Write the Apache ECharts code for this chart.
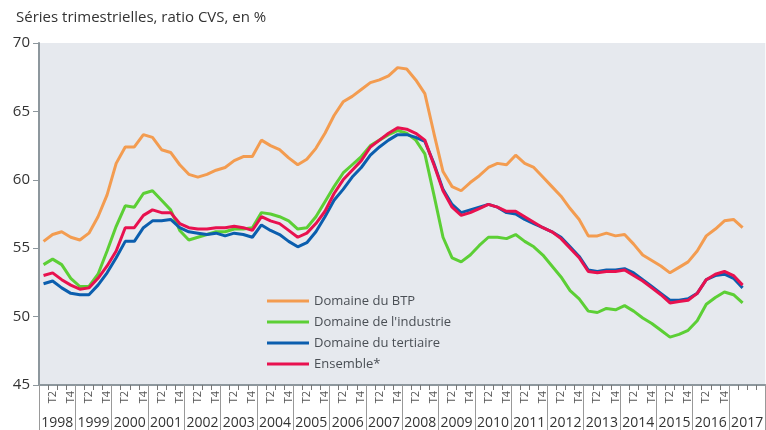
<!DOCTYPE html>
<html>
<head>
<meta charset="utf-8">
<script src="https://cdn.jsdelivr.net/npm/echarts@6/dist/echarts.min.js"></script>
<style>
  html, body { margin: 0; padding: 0; background: #fff; }
  #chart { width: 766px; height: 430px; }
</style>
</head>
<body>
<div id="chart"></div>
<script>
const years = ['1998', '1999', '2000', '2001', '2002', '2003', '2004', '2005', '2006', '2007',
  '2008', '2009', '2010', '2011', '2012', '2013', '2014', '2015', '2016', '2017']
const quarterTicks = ['', 'T2', '', 'T4']
const unlabelledYear = '2017'

const btp = [55.5, 56.0, 56.2, 55.8, 55.6, 56.1, 57.3, 58.9, 61.2, 62.4, 62.4, 63.3, 63.1, 62.2, 62.0, 61.1,
  60.4, 60.2, 60.4, 60.7, 60.9, 61.4, 61.7, 61.7, 62.9, 62.5, 62.2, 61.6, 61.1, 61.5, 62.3, 63.4,
  64.7, 65.7, 66.1, 66.6, 67.1, 67.3, 67.6, 68.2, 68.1, 67.3, 66.3, 63.4, 60.6, 59.5, 59.2, 59.8,
  60.3, 60.9, 61.2, 61.1, 61.8, 61.2, 60.9, 60.2, 59.5, 58.8, 57.9, 57.1, 55.9, 55.9, 56.1, 55.9,
  56.0, 55.3, 54.5, 54.1, 53.7, 53.2, 53.6, 54.0, 54.8, 55.9, 56.4, 57.0, 57.1, 56.5]
const industrie = [53.8, 54.2, 53.8, 52.8, 52.2, 52.2, 53.1, 54.8, 56.6, 58.1, 58.0, 59.0, 59.2, 58.5, 57.8, 56.3,
  55.6, 55.8, 56.0, 56.2, 56.2, 56.4, 56.4, 56.5, 57.6, 57.5, 57.3, 57.0, 56.4, 56.5, 57.3, 58.4,
  59.5, 60.5, 61.1, 61.7, 62.5, 62.9, 63.3, 63.6, 63.4, 62.9, 61.9, 58.9, 55.8, 54.3, 54.0, 54.5,
  55.2, 55.8, 55.8, 55.7, 56.0, 55.5, 55.1, 54.5, 53.7, 52.9, 51.9, 51.3, 50.4, 50.3, 50.6, 50.5,
  50.8, 50.4, 49.9, 49.5, 49.0, 48.5, 48.7, 49.0, 49.7, 50.9, 51.4, 51.8, 51.6, 51.0]
const tertiaire = [52.4, 52.6, 52.1, 51.7, 51.6, 51.6, 52.3, 53.2, 54.3, 55.5, 55.5, 56.5, 57.0, 57.0, 57.1, 56.5,
  56.2, 56.1, 56.0, 56.1, 55.9, 56.1, 56.0, 55.8, 56.7, 56.3, 56.0, 55.5, 55.1, 55.4, 56.2, 57.3,
  58.5, 59.3, 60.2, 60.9, 61.8, 62.4, 62.9, 63.3, 63.3, 63.1, 62.8, 61.2, 59.3, 58.2, 57.6, 57.8,
  58.0, 58.2, 58.0, 57.6, 57.5, 57.1, 56.8, 56.5, 56.2, 55.8, 55.1, 54.4, 53.4, 53.3, 53.4, 53.4,
  53.5, 53.2, 52.7, 52.2, 51.7, 51.2, 51.2, 51.3, 51.7, 52.7, 53.0, 53.1, 52.8, 52.1]
const ensemble = [53.0, 53.2, 52.7, 52.3, 52.0, 52.1, 52.8, 53.7, 54.8, 56.5, 56.5, 57.4, 57.8, 57.6, 57.6, 56.8,
  56.5, 56.4, 56.4, 56.5, 56.5, 56.6, 56.5, 56.3, 57.3, 57.0, 56.8, 56.3, 55.8, 56.1, 56.8, 57.7,
  59.0, 60.0, 60.7, 61.4, 62.4, 62.9, 63.4, 63.8, 63.7, 63.4, 62.9, 61.1, 59.2, 58.0, 57.4, 57.6,
  57.9, 58.2, 58.0, 57.7, 57.7, 57.3, 56.9, 56.5, 56.2, 55.7, 55.0, 54.3, 53.3, 53.2, 53.3, 53.3,
  53.4, 53.0, 52.6, 52.1, 51.6, 51.0, 51.1, 51.2, 51.7, 52.7, 53.1, 53.3, 53.0, 52.3]

// one category per quarter, labelled T2 / T4 (the last year has no labels)
const quarterCats = []
years.forEach((y) => {
  quarterTicks.forEach((t) => {
    quarterCats.push(y === unlabelledYear ? '' : t)
  })
})

const chart = echarts.init(document.getElementById('chart'))

const makeSeries = (name, data, color, z) => ({
  name: name,
  type: 'line',
  data: data,
  symbol: 'none',
  z: z,
  lineStyle: { color: color, width: 3 },
  itemStyle: { color: color }
})

chart.setOption({
  animation: false,
  textStyle: { fontFamily: 'Open Sans' },
  title: {
    text: 'Séries trimestrielles, ratio CVS, en %',
    left: 11,
    top: 5,
    textStyle: { fontSize: 15, fontWeight: 'normal', color: '#333', fontFamily: 'Open Sans' }
  },
  legend: {
    orient: 'vertical',
    left: 262,
    top: 289,
    icon: 'rect',
    itemWidth: 42,
    itemHeight: 3,
    itemGap: 7,
    textStyle: { fontSize: 13, color: '#4a4f55', lineHeight: 14 },
    data: ['Domaine du BTP', "Domaine de l'industrie", 'Domaine du tertiaire', 'Ensemble*']
  },
  grid: {
    left: 39,
    top: 43,
    width: 732,
    height: 342,
    show: true,
    backgroundColor: '#e6e9ee',
    borderWidth: 0
  },
  xAxis: [
    {
      type: 'category',
      data: quarterCats,
      boundaryGap: true,
      axisLine: { show: true, lineStyle: { color: '#8d979d', width: 2 } },
      axisTick: { show: true, interval: 0, length: 5, lineStyle: { color: '#777' } },
      axisLabel: { interval: 0, rotate: 90, fontSize: 11, color: '#555', margin: 6 }
    },
    {
      type: 'category',
      data: years,
      position: 'bottom',
      boundaryGap: true,
      axisLine: { show: false },
      axisTick: { show: true, interval: 0, length: 46, lineStyle: { color: '#999' } },
      axisLabel: { interval: 0, fontSize: 14, color: '#333', margin: 31 }
    }
  ],
  yAxis: {
    type: 'value',
    min: 45,
    max: 70,
    interval: 5,
    axisLine: { show: true, lineStyle: { color: '#8d979d', width: 2 } },
    axisTick: { show: true, length: 6, lineStyle: { color: '#8d979d' } },
    axisLabel: { fontSize: 15, color: '#333', margin: 9 },
    splitLine: { show: false }
  },
  series: [
    makeSeries('Domaine du BTP', btp, '#f39c50', 2),
    makeSeries("Domaine de l'industrie", industrie, '#5ccf35', 3),
    makeSeries('Domaine du tertiaire', tertiaire, '#0b5eae', 4),
    makeSeries('Ensemble*', ensemble, '#e8114f', 5)
  ]
})
</script>
</body>
</html>
